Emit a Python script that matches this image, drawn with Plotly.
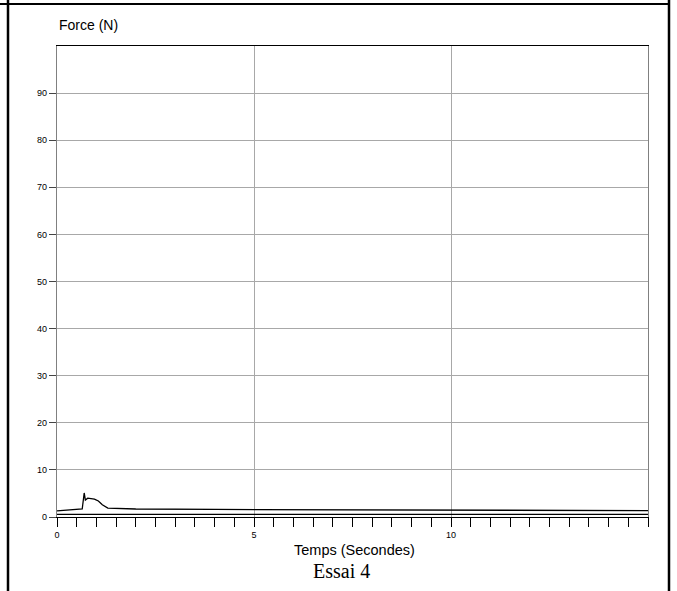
import plotly.graph_objects as go

# Data
time_s = [0.0, 0.64, 0.69, 0.72, 0.78, 0.95, 1.05, 1.15, 1.29, 1.6, 2.0, 4.0, 7.5, 11.0, 15.0]
force_n = [1.3, 1.7, 5.1, 3.6, 4.0, 3.8, 3.4, 2.6, 1.9, 1.75, 1.7, 1.6, 1.5, 1.45, 1.35]
base_time = [0.0, 15.0]
base_force = [0.55, 0.55]

x_ticks = [0, 5, 10]
x_labels = ["0", "5", "10"]
y_ticks = [0, 10, 20, 30, 40, 50, 60, 70, 80, 90]
y_labels = [str(v) for v in y_ticks]

W, H = 677, 591
L, R, T, B = 57, 29, 46, 74
pw, ph = W - L - R, H - T - B


def px(x):
    return (x - L) / pw


def py(y):
    return (H - B - y) / ph


fig = go.Figure()
fig.add_trace(go.Scatter(x=time_s, y=force_n, mode="lines",
                         line=dict(color="black", width=1.3), hoverinfo="skip"))
fig.add_trace(go.Scatter(x=base_time, y=base_force, mode="lines",
                         line=dict(color="black", width=1.3), hoverinfo="skip"))

fig.update_layout(
    width=W, height=H,
    margin=dict(l=L, r=R, t=T, b=B),
    paper_bgcolor="white", plot_bgcolor="white",
    showlegend=False,
    font=dict(family="Arial, Liberation Sans, sans-serif", color="black", size=9),
    xaxis=dict(
        range=[0, 15], tickvals=x_ticks, ticktext=x_labels,
        ticks="outside", ticklen=9, tickcolor="black", tickwidth=1,
        showgrid=True, gridcolor="#a8a8a8", gridwidth=1,
        showline=True, linecolor="black", linewidth=1, mirror=True,
        zeroline=False,
        minor=dict(dtick=0.5, tick0=0, ticks="outside", ticklen=9,
                   tickcolor="black", tickwidth=1, showgrid=False),
        tickfont=dict(size=9),
    ),
    yaxis=dict(
        range=[0, 100], tickvals=y_ticks, ticktext=y_labels,
        ticks="outside", ticklen=7, tickcolor="#444444", tickwidth=1,
        showgrid=True, gridcolor="#a8a8a8", gridwidth=1,
        showline=True, linecolor="#808080", linewidth=1.2, mirror=True,
        zeroline=False,
        tickfont=dict(size=9),
    ),
    annotations=[
        dict(text="Force (N)", xref="paper", yref="paper", x=px(57), y=py(25),
             xanchor="left", yanchor="middle", showarrow=False,
             font=dict(size=14, family="Arial, Liberation Sans, sans-serif")),
        dict(text="Temps (Secondes)", xref="paper", yref="paper", x=px(354), y=py(550),
             xanchor="center", yanchor="middle", showarrow=False,
             font=dict(size=14.5, family="Arial, Liberation Sans, sans-serif")),
        dict(text="Essai 4", xref="paper", yref="paper", x=px(341), y=py(571),
             xanchor="center", yanchor="middle", showarrow=False,
             font=dict(size=20, family="Liberation Serif, Times New Roman, serif")),
    ],
    shapes=[
        dict(type="line", xref="paper", yref="paper", x0=px(0), x1=px(670),
             y0=py(4), y1=py(4), line=dict(color="black", width=2)),
        dict(type="line", xref="paper", yref="paper", x0=px(8), x1=px(8),
             y0=py(0), y1=py(591), line=dict(color="black", width=2.5)),
        dict(type="line", xref="paper", yref="paper", x0=px(669), x1=px(669),
             y0=py(0), y1=py(591), line=dict(color="black", width=2.5)),
    ],
)

fig.write_html("out.html")
